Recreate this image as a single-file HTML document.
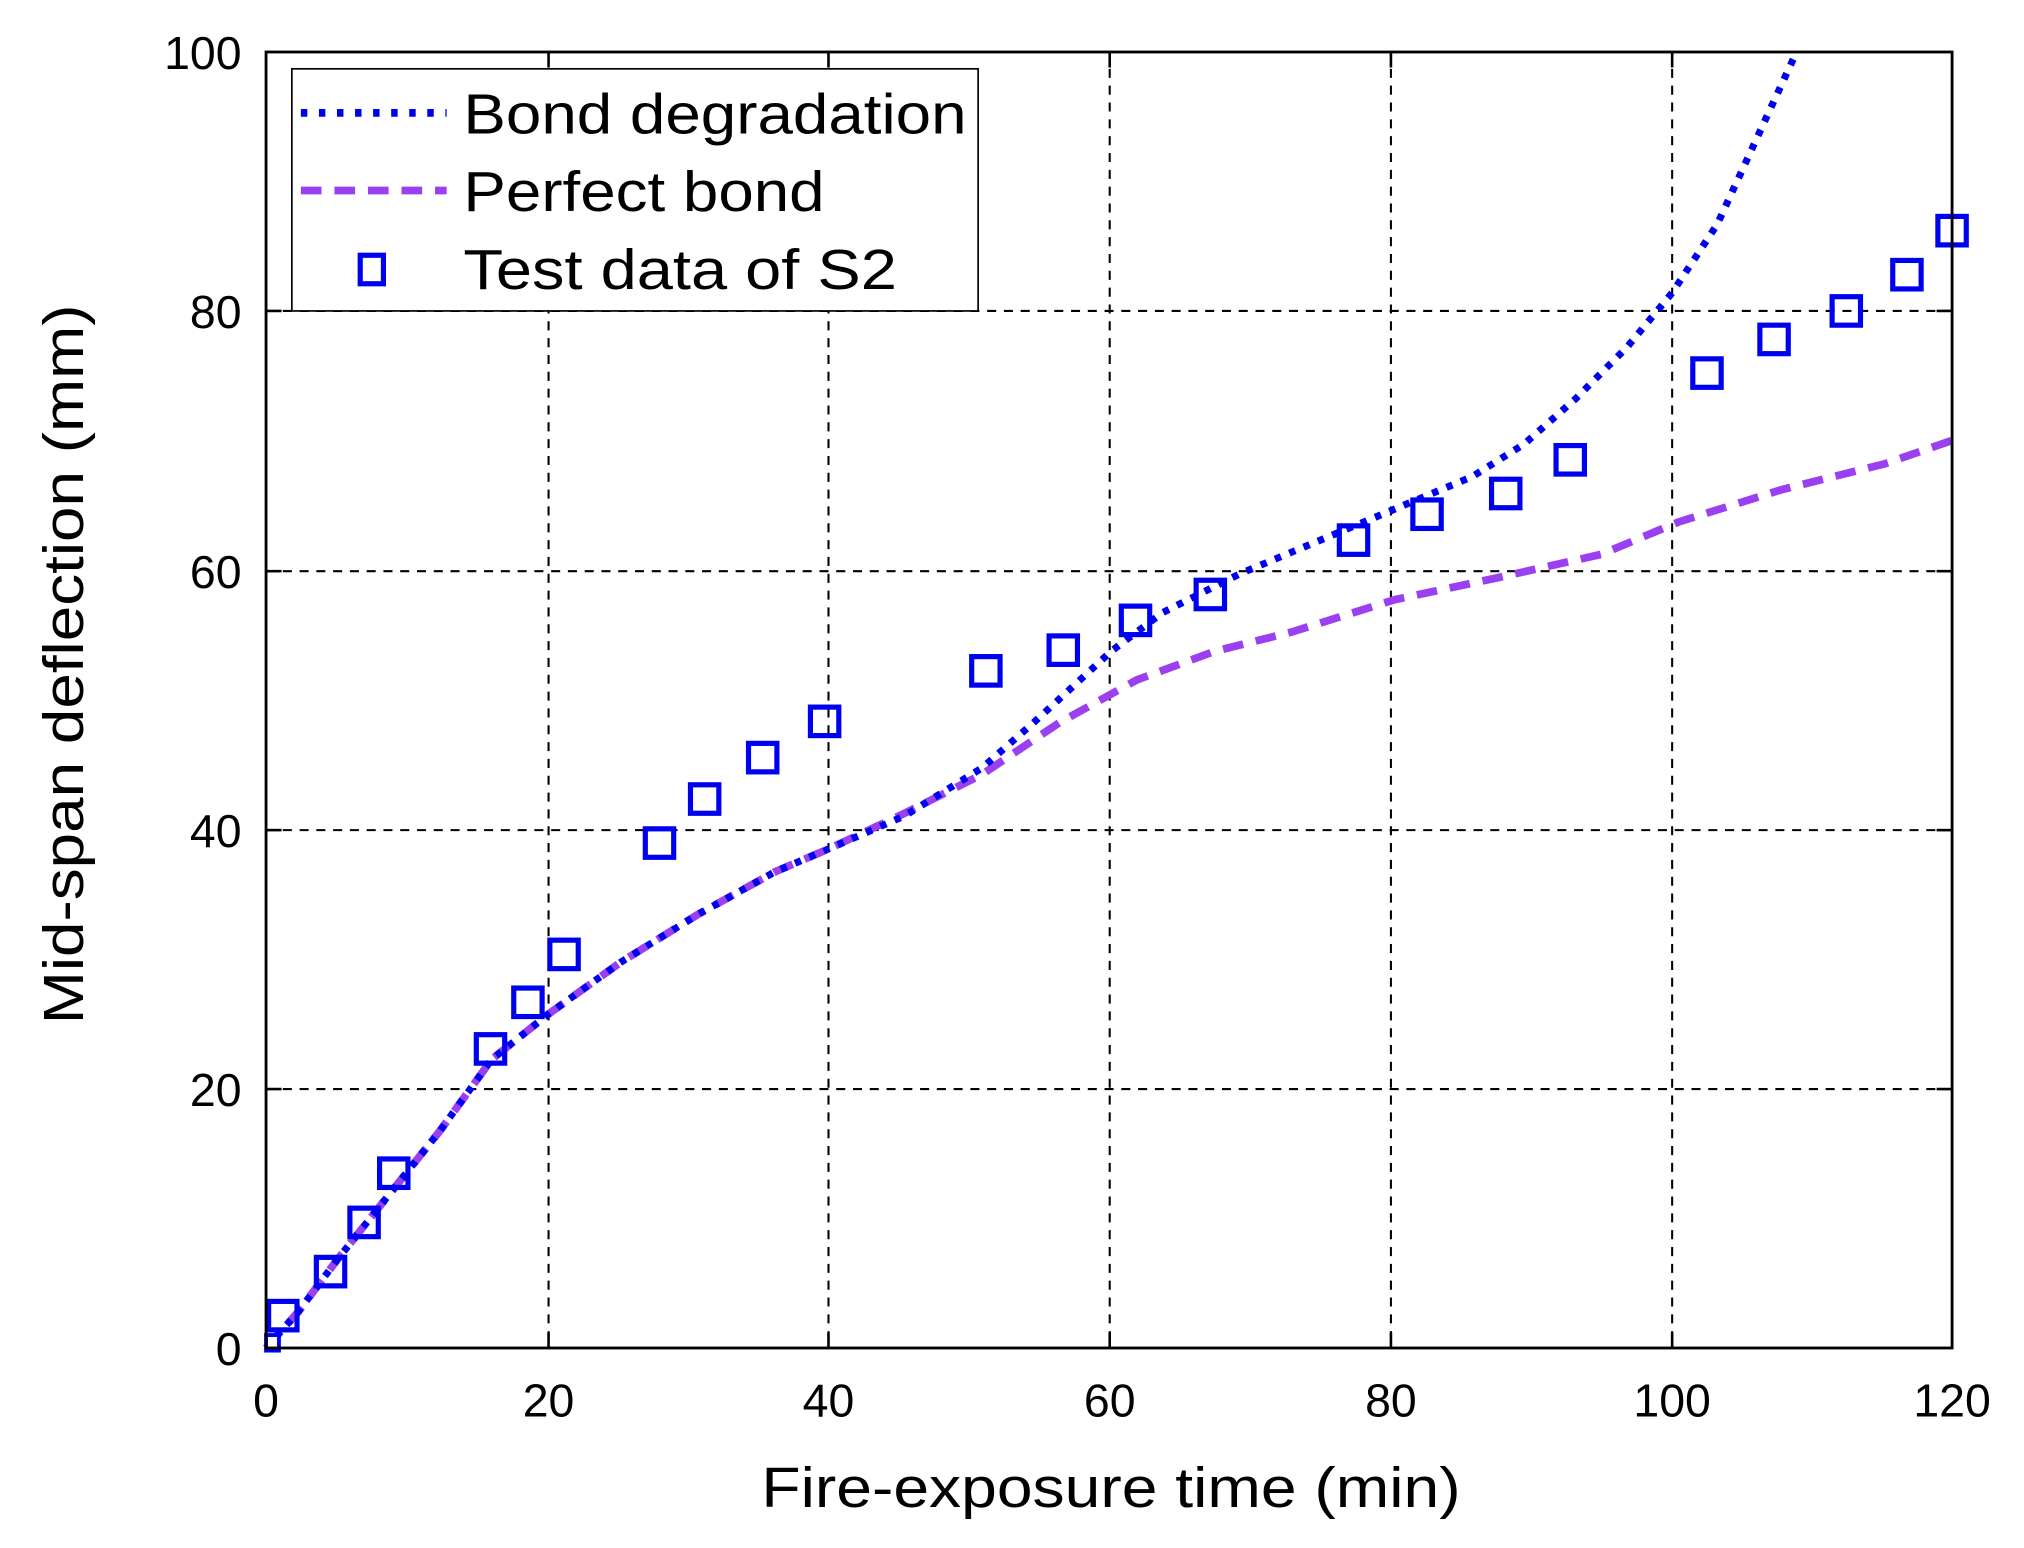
<!DOCTYPE html>
<html><head><meta charset="utf-8"><style>html,body{margin:0;padding:0;background:#fff}svg{display:block}</style></head><body>
<svg width="2024" height="1548" viewBox="0 0 2024 1548" xmlns="http://www.w3.org/2000/svg">
<rect width="2024" height="1548" fill="#fff"/>
<g transform="matrix(1.2900 0 0 1.2947 1.6 -2.38)" font-family="Liberation Sans, Arial, sans-serif">
<g stroke="#000" stroke-width="1.6" stroke-dasharray="7 6" fill="none">
<line x1="424" y1="42" x2="424" y2="1043"/><line x1="641" y1="42" x2="641" y2="1043"/><line x1="859" y1="42" x2="859" y2="1043"/><line x1="1077" y1="42" x2="1077" y2="1043"/><line x1="1295" y1="42" x2="1295" y2="1043"/>
<line x1="205" y1="242" x2="1512" y2="242"/><line x1="205" y1="443" x2="1512" y2="443"/><line x1="205" y1="643" x2="1512" y2="643"/><line x1="205" y1="843" x2="1512" y2="843"/>
</g>
<g stroke="#000" stroke-width="2">
<line x1="424" y1="42" x2="424" y2="54"/><line x1="641" y1="42" x2="641" y2="54"/><line x1="859" y1="42" x2="859" y2="54"/><line x1="1077" y1="42" x2="1077" y2="54"/><line x1="1295" y1="42" x2="1295" y2="54"/>
<line x1="424" y1="1043" x2="424" y2="1031"/><line x1="641" y1="1043" x2="641" y2="1031"/><line x1="859" y1="1043" x2="859" y2="1031"/><line x1="1077" y1="1043" x2="1077" y2="1031"/><line x1="1295" y1="1043" x2="1295" y2="1031"/>
<line x1="205" y1="242" x2="217" y2="242"/><line x1="205" y1="443" x2="217" y2="443"/><line x1="205" y1="643" x2="217" y2="643"/><line x1="205" y1="843" x2="217" y2="843"/>
<line x1="1512" y1="242" x2="1500" y2="242"/><line x1="1512" y1="443" x2="1500" y2="443"/><line x1="1512" y1="643" x2="1500" y2="643"/><line x1="1512" y1="843" x2="1500" y2="843"/>
</g>
<polyline fill="none" stroke="#9b40f0" stroke-width="6" stroke-dasharray="16 10" points="205,1043 230,1015 260,975 300,925 340,875 380,820 424,785 480,745 540,708 600,675 640,658 700,630 760,600 820,560 880,527 940,505 1000,490 1080,465 1160,448 1240,430 1300,405 1380,380 1460,360 1512,342"/>
<polyline fill="none" stroke="#0000f0" stroke-width="5.5" stroke-dasharray="5 7" points="205,1043 230,1015 260,975 300,925 340,875 380,820 424,785 480,745 540,708 600,675 640,658 700,632 760,595 800,560 860,505 900,475 960,445 1020,420 1080,395 1140,370 1180,345 1220,310 1260,270 1295,228 1330,175 1360,110 1390,45"/>
<g fill="none" stroke="#0000f0" stroke-width="4">
<rect x="207" y="1007" width="22" height="22"/><rect x="244" y="973" width="22" height="22"/><rect x="270" y="935" width="22" height="22"/><rect x="293" y="897" width="22" height="22"/><rect x="368" y="801" width="22" height="22"/><rect x="397" y="765" width="22" height="22"/><rect x="425" y="728" width="22" height="22"/><rect x="499" y="642" width="22" height="22"/><rect x="534" y="608" width="22" height="22"/><rect x="579" y="576" width="22" height="22"/><rect x="627" y="548" width="22" height="22"/><rect x="752" y="509" width="22" height="22"/><rect x="812" y="493" width="22" height="22"/><rect x="868" y="470" width="22" height="22"/><rect x="926" y="450" width="22" height="22"/><rect x="1037" y="408" width="22" height="22"/><rect x="1094" y="388" width="22" height="22"/><rect x="1155" y="372" width="22" height="22"/><rect x="1205" y="346" width="22" height="22"/><rect x="1311" y="279" width="22" height="22"/><rect x="1363" y="253" width="22" height="22"/><rect x="1419" y="231" width="22" height="22"/><rect x="1466" y="203" width="22" height="22"/><rect x="1501" y="169" width="22" height="22"/>
</g>
<rect x="205" y="1033" width="10" height="12" fill="#fff" stroke="#0000f0" stroke-width="3"/>
<rect x="205" y="42" width="1307" height="1001" fill="none" stroke="#000" stroke-width="2.2"/>
<rect x="225" y="55" width="532" height="187" fill="#fff" stroke="#000" stroke-width="1.3"/>
<line x1="232" y1="89" x2="345" y2="89" stroke="#0000f0" stroke-width="6" stroke-dasharray="5 9"/>
<line x1="232" y1="149" x2="345" y2="149" stroke="#9b40f0" stroke-width="6" stroke-dasharray="16 10"/>
<rect x="278" y="199" width="18" height="22" fill="none" stroke="#0000f0" stroke-width="4"/>
<g font-size="44" fill="#000">
<text x="358" y="105" textLength="390" lengthAdjust="spacingAndGlyphs">Bond degradation</text>
<text x="358" y="165" textLength="280" lengthAdjust="spacingAndGlyphs">Perfect bond</text>
<text x="358" y="225" textLength="336" lengthAdjust="spacingAndGlyphs">Test data of S2</text>
</g>
<g font-size="36" fill="#000" text-anchor="end">
<text x="186" y="55">100</text><text x="186" y="255">80</text><text x="186" y="456">60</text><text x="186" y="656">40</text><text x="186" y="856">20</text><text x="186" y="1056">0</text>
</g>
<g font-size="36" fill="#000" text-anchor="middle">
<text x="205" y="1096">0</text><text x="424" y="1096">20</text><text x="641" y="1096">40</text><text x="859" y="1096">60</text><text x="1077" y="1096">80</text><text x="1295" y="1096">100</text><text x="1512" y="1096">120</text>
</g>
<text x="860" y="1166" font-size="44" text-anchor="middle" textLength="542" lengthAdjust="spacingAndGlyphs">Fire-exposure time (min)</text>
<text transform="translate(63,515) rotate(-90)" font-size="44" text-anchor="middle" textLength="556" lengthAdjust="spacingAndGlyphs">Mid-span deflection (mm)</text>
</g>
</svg>
</body></html>
